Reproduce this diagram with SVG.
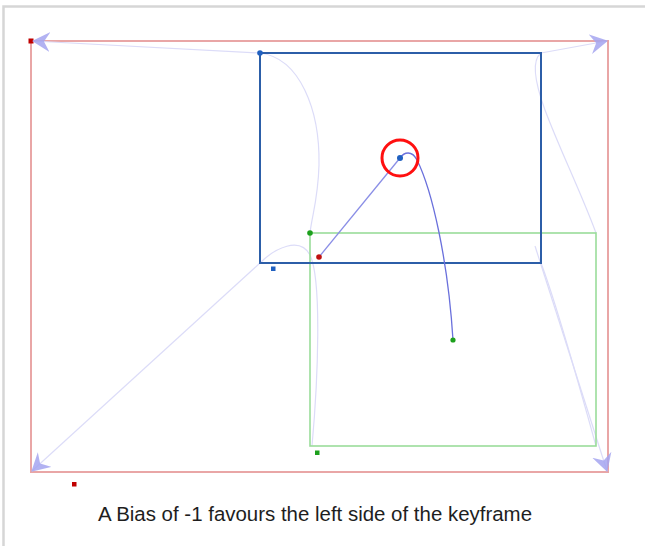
<svg xmlns="http://www.w3.org/2000/svg" width="645" height="546" viewBox="0 0 645 546">
<style>
.trail{fill:none;stroke:#dcdcf8;stroke-width:1.2}
.ah{fill:#a4a4f0;opacity:0.85}
.caption{font-family:"Liberation Sans",Arial,sans-serif;font-size:20.5px;fill:#1e1e1e}
</style>
<defs>
<marker id="arr" viewBox="0 0 18 20" refX="17" refY="10" markerWidth="18" markerHeight="20" markerUnits="userSpaceOnUse" orient="auto">
<path class="ah" d="M0,0 L18,10 L0,20 L6,10 Z"/>
</marker>
</defs>
<rect x="0" y="0" width="645" height="546" fill="#fff"/>
<path d="M3.5,546 V6.5 H645" fill="none" stroke="#d6d6d6" stroke-width="2.5"/>
<g id="frame-red">
<rect x="31" y="41" width="577" height="431" fill="none" stroke="#e9a6a6" stroke-width="2"/>
<rect x="28.5" y="38.5" width="5" height="5" fill="#c00000"/>
<rect x="72" y="482" width="4.5" height="4.5" fill="#c00000"/>
</g>
<g id="connectors">
<path class="trail" d="M260,53 L33,41" marker-end="url(#arr)"/>
<path class="trail" d="M541,53 L607,41" marker-end="url(#arr)"/>
<path class="trail" d="M260,263 L32,471" marker-end="url(#arr)"/>
<path class="trail" d="M535,246 L607,471" marker-end="url(#arr)"/>
<path class="trail" d="M260,53 C300,58 320,110 319,165 C318,200 312,215 310,233"/>
<path class="trail" d="M541,53 C532,60 534,80 545,110 C560,150 580,190 596,233"/>
<path class="trail" d="M260,263 C275,248 300,236 310,255 C322,280 318,380 312,446"/>
<path class="trail" d="M541,263 C555,300 575,370 596,446"/>
</g>
<g id="frame-green">
<rect x="310" y="233" width="286" height="213" fill="none" stroke="#9adc9a" stroke-width="1.6"/>
<circle cx="310" cy="233" r="2.8" fill="#1ca01c"/>
<rect x="315" y="450.5" width="4.5" height="4.5" fill="#1ca01c"/>
</g>
<g id="frame-blue">
<rect x="260" y="53" width="281" height="210" fill="none" stroke="#2c5ea8" stroke-width="2"/>
<circle cx="260" cy="53" r="2.8" fill="#2060c0"/>
<rect x="271" y="266.5" width="4.5" height="4.5" fill="#2060c0"/>
</g>
<g id="motion">
<line x1="319" y1="257" x2="400" y2="158" stroke="#8a8ee6" stroke-width="1.3"/>
<path d="M400,158 C404,152 412,150 417,160 C432,190 448,260 453,340" fill="none" stroke="#6a70dc" stroke-width="1.3"/>
<circle cx="319" cy="257" r="2.8" fill="#c01010"/>
<circle cx="453" cy="340" r="2.6" fill="#1ca01c"/>
</g>
<g id="key">
<circle cx="400" cy="158" r="18" fill="none" stroke="#ff1010" stroke-width="3"/>
<circle cx="400" cy="158" r="3" fill="#2060c0"/>
</g>
<text class="caption" x="98" y="521" textLength="434" lengthAdjust="spacingAndGlyphs">A Bias of -1 favours the left side of the keyframe</text>
</svg>
